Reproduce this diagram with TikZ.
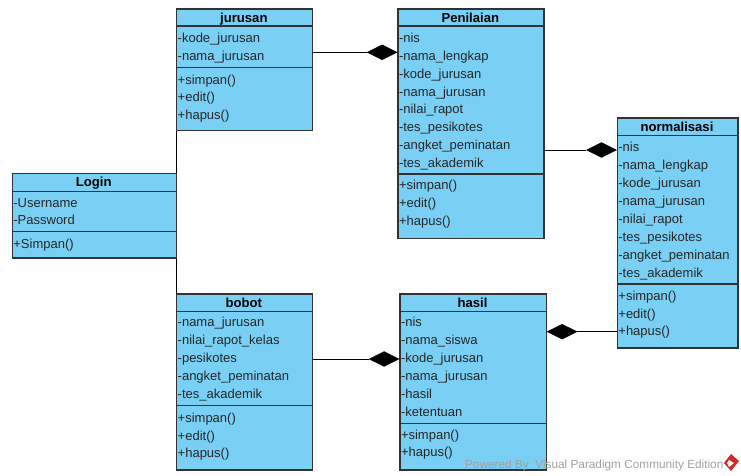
\documentclass[tikz,border=0pt]{standalone}
\usepackage{fontspec}
\setmainfont{Liberation Sans}
\usetikzlibrary{shapes.geometric}
\definecolor{clsfill}{RGB}{122,207,245}
\definecolor{clsline}{RGB}{50,50,50}
\definecolor{wmgray}{RGB}{160,160,160}
\definecolor{wmred}{RGB}{210,40,40}
\begin{document}
\begin{tikzpicture}[x=1pt,y=-1pt,
  cls/.style={draw=clsline, line width=1.2pt, fill=clsfill, rectangle, inner sep=0pt},
  hdr/.style={font=\fontsize{13.1}{15}\selectfont\bfseries, inner sep=0pt, text height=9pt, text depth=2.5pt, yshift=-1.5pt},
  row/.style={font=\fontsize{13}{15}\selectfont, anchor=west, inner sep=0pt, text height=9pt, text depth=3pt, text=black!85, yshift=-1.2pt},
  sep/.style={draw=clsline, line width=1.2pt},
  conn/.style={draw=black, line width=0.9pt},
  comp/.style={diamond, fill=black, draw=black, line width=0.4pt, minimum width=30pt, minimum height=15pt, inner sep=0pt}
]
\useasboundingbox (0,0) rectangle (741,475);

% ---------- jurusan ----------
\node[cls, anchor=north west, minimum width=135.7pt, minimum height=121.7pt] (jurusan) at (176,8.3) {};
\node[hdr] (jurusan-t) at (243.85,17.3) {jurusan};
\draw[sep] (176,26) -- (311.7,26);
\draw[sep] (176,67.3) -- (311.7,67.3);
\foreach \t [count=\i from 0] in {-kode\_jurusan,-nama\_jurusan}
  \node[row] (jurusan-a\i) at (177.5,38.3+18.2*\i) {\t};
\foreach \t [count=\i from 0] in {+simpan(),+edit(),+hapus()}
  \node[row] (jurusan-m\i) at (177.5,80+17.5*\i) {\t};

% ---------- Login ----------
\node[cls, anchor=north west, minimum width=164pt, minimum height=84.6pt] (login) at (11.7,172.7) {};
\node[hdr] (login-t) at (93.7,182) {Login};
\draw[sep] (11.7,191.3) -- (175.7,191.3);
\draw[sep] (11.7,231.3) -- (175.7,231.3);
\foreach \t [count=\i from 0] in {-Username,-Password}
  \node[row] (login-a\i) at (13.2,203+17.4*\i) {\t};
\node[row] (login-m0) at (13.2,243.8) {+Simpan()};

% ---------- bobot ----------
\node[cls, anchor=north west, minimum width=135.7pt, minimum height=176pt] (bobot) at (176,293.3) {};
\node[hdr] (bobot-t) at (243.85,302.3) {bobot};
\draw[sep] (176,311.3) -- (311.7,311.3);
\draw[sep] (176,405.7) -- (311.7,405.7);
\foreach \t [count=\i from 0] in {-nama\_jurusan,-nilai\_rapot\_kelas,-pesikotes,-angket\_peminatan,-tes\_akademik}
  \node[row] (bobot-a\i) at (177.5,322.7+18*\i) {\t};
\foreach \t [count=\i from 0] in {+simpan(),+edit(),+hapus()}
  \node[row] (bobot-m\i) at (177.5,418.3+17.5*\i) {\t};

% ---------- Penilaian ----------
\node[cls, anchor=north west, minimum width=146pt, minimum height=229.4pt] (penilaian) at (397.3,8.3) {};
\node[hdr] (penilaian-t) at (470.3,17.3) {Penilaian};
\draw[sep] (397.3,26) -- (543.3,26);
\draw[sep] (397.3,174) -- (543.3,174);
\foreach \t [count=\i from 0] in {-nis,-nama\_lengkap,-kode\_jurusan,-nama\_jurusan,-nilai\_rapot,-tes\_pesikotes,-angket\_peminatan,-tes\_akademik}
  \node[row] (penilaian-a\i) at (398.8,38.3+17.86*\i) {\t};
\foreach \t [count=\i from 0] in {+simpan(),+edit(),+hapus()}
  \node[row] (penilaian-m\i) at (398.8,185.7+18*\i) {\t};

% ---------- normalisasi ----------
\node[cls, anchor=north west, minimum width=120.6pt, minimum height=230pt] (normalisasi) at (616.7,117.3) {};
\node[hdr] (normalisasi-t) at (677,126.3) {normalisasi};
\draw[sep] (616.7,135.3) -- (737.3,135.3);
\draw[sep] (616.7,284) -- (737.3,284);
\foreach \t [count=\i from 0] in {-nis,-nama\_lengkap,-kode\_jurusan,-nama\_jurusan,-nilai\_rapot,-tes\_pesikotes,-angket\_peminatan,-tes\_akademik}
  \node[row] (normalisasi-a\i) at (618.2,147.3+18*\i) {\t};
\foreach \t [count=\i from 0] in {+simpan(),+edit(),+hapus()}
  \node[row] (normalisasi-m\i) at (618.2,296+17.85*\i) {\t};

% ---------- hasil ----------
\node[cls, anchor=north west, minimum width=146.4pt, minimum height=176pt] (hasil) at (399.3,293.3) {};
\node[hdr] (hasil-t) at (472.5,302.3) {hasil};
\draw[sep] (399.3,311.3) -- (545.7,311.3);
\draw[sep] (399.3,423.7) -- (545.7,423.7);
\foreach \t [count=\i from 0] in {-nis,-nama\_siswa,-kode\_jurusan,-nama\_jurusan,-hasil,-ketentuan}
  \node[row] (hasil-a\i) at (400.8,322.7+17.9*\i) {\t};
\foreach \t [count=\i from 0] in {+simpan(),+hapus()}
  \node[row] (hasil-m\i) at (400.8,435+17.7*\i) {\t};

% ---------- connectors ----------
\draw[conn] (jurusan.south west) -- (jurusan.south west |- login.north);
\draw[conn] (bobot.north west) -- (bobot.north west |- login.south);

\node[comp, anchor=east] (d1) at (penilaian.west |- 0,52.3) {};
\draw[conn] (jurusan.east |- d1) -- (d1.west);

\node[comp, anchor=east] (d2) at (normalisasi.west |- 0,150) {};
\draw[conn] (penilaian.east |- d2) -- (d2.west);

\node[comp, anchor=west] (d3) at (hasil.east |- 0,331.7) {};
\draw[conn] (normalisasi.west |- d3) -- (d3.east);

\node[comp, anchor=east] (d4) at (hasil.west |- 0,359) {};
\draw[conn] (bobot.east |- d4) -- (d4.west);

% ---------- watermark ----------
\node[anchor=base west, inner sep=0pt, text=wmgray, font=\fontsize{11.8}{13}\selectfont] (wm) at (465,468) {Powered By\ \ Visual Paradigm Community Edition};
\fill[wmred] (731,454) -- (739,461) -- (731,471) -- (724,463) -- cycle;
\fill[white] (729,460) -- (734,463) -- (729,467) -- (727,463) -- cycle;
\end{tikzpicture}
\end{document}
